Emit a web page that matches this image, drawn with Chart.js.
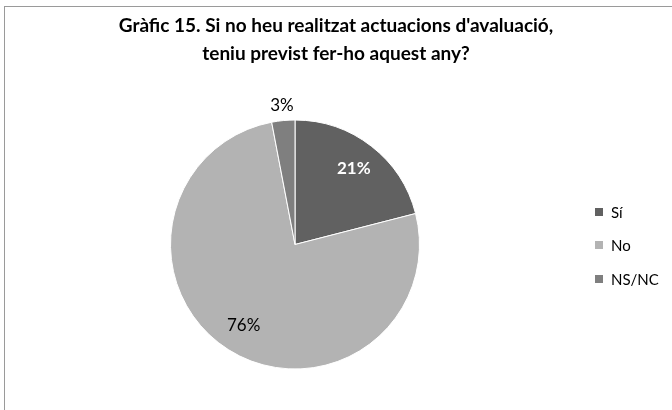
<!DOCTYPE html>
<html>
<head>
<meta charset="utf-8">
<script src="https://cdn.jsdelivr.net/npm/chart.js@4.4.0/dist/chart.umd.min.js"></script>
<style>
  html, body { margin: 0; padding: 0; background: #fff; }
  #wrap { position: relative; width: 672px; height: 410px; }
</style>
</head>
<body>
<div id="wrap"><canvas id="chartCanvas"></canvas></div>
<script>
const titol = ["Gràfic 15. Si no heu realitzat actuacions d'avaluació,", "teniu previst fer-ho aquest any?"];
const categories = ["Sí", "No", "NS/NC"];
const percentatges = [21, 76, 3];
const colors = ["#616161", "#b3b3b3", "#7f7f7f"];
const labelColors = ["#ffffff", "#000000", "#000000"];
const labelBold = [true, false, false];
const labelDist = [0.77, 0.77, 1.12];

const FONT = "Lato, 'Open Sans', sans-serif";

// titol, marc, etiquetes i llegenda
const extres = {
  id: 'extres',
  afterDraw(chart) {
    const ctx = chart.ctx;
    ctx.save();
    // marc
    ctx.strokeStyle = '#9a9a9a';
    ctx.lineWidth = 1;
    ctx.strokeRect(4.5, 6.5, 700, 500);

    // titol
    ctx.fillStyle = '#000';
    ctx.font = 'bold 19px ' + FONT;
    ctx.textAlign = 'center';
    ctx.textBaseline = 'middle';
    ctx.fillText(titol[0], 336, 26);
    ctx.fillText(titol[1], 336, 54);

    // etiquetes
    const meta = chart.getDatasetMeta(0);
    meta.data.forEach((arc, i) => {
      const mid = (arc.startAngle + arc.endAngle) / 2;
      const r = arc.outerRadius * labelDist[i];
      const x = arc.x + Math.cos(mid) * r;
      const y = arc.y + Math.sin(mid) * r;
      ctx.font = (labelBold[i] ? 'bold ' : '') + '17px ' + FONT;
      ctx.fillStyle = labelColors[i];
      ctx.fillText(percentatges[i] + '%', x, y);
    });

    // llegenda
    const legY = [212, 245, 279];
    ctx.textAlign = 'left';
    ctx.font = '15px ' + FONT;
    categories.forEach((c, i) => {
      ctx.fillStyle = colors[i];
      ctx.fillRect(595, legY[i] - 4, 8, 8);
      ctx.fillStyle = '#000';
      ctx.fillText(c, 611, legY[i] + 1);
    });
    ctx.restore();
  }
};

const ctx = document.getElementById('chartCanvas').getContext('2d');
new Chart(ctx, {
  type: 'pie',
  data: {
    labels: categories,
    datasets: [{
      data: percentatges,
      backgroundColor: colors,
      borderColor: '#ffffff',
      borderWidth: 1
    }]
  },
  options: {
    responsive: true,
    maintainAspectRatio: false,
    animation: false,
    layout: { padding: { left: 170, right: 252, top: 119, bottom: 40 } },
    plugins: {
      legend: { display: false },
      title: { display: false },
      tooltip: { enabled: false }
    }
  },
  plugins: [extres]
});
</script>
</body>
</html>
